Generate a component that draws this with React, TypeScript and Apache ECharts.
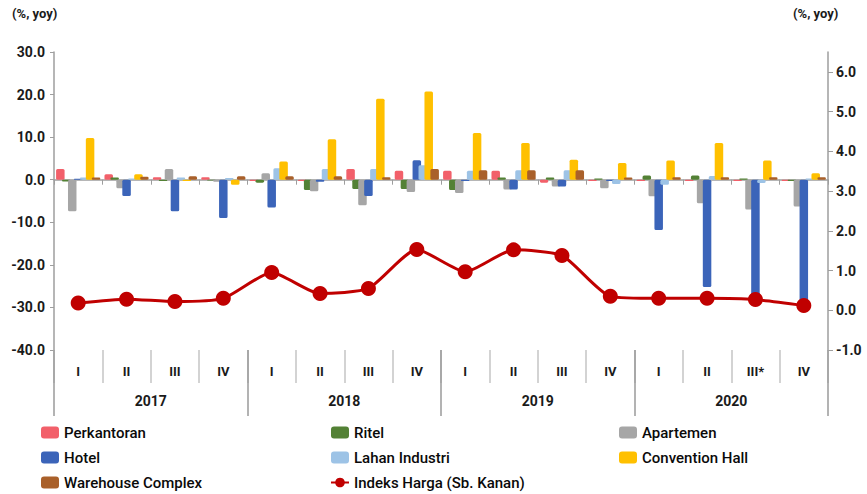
import React, { useEffect, useRef } from 'react';
import * as echarts from 'echarts';

const quarters = ['I', 'II', 'III', 'IV', 'I', 'II', 'III', 'IV', 'I', 'II', 'III', 'IV', 'I', 'II', 'III*', 'IV'];
const years = ['2017', '2018', '2019', '2020'];

const perkantoran = [2.5, 1.3, 0.6, 0.6, -0.3, -0.3, 2.5, 2.1, 2.1, 2.1, -0.7, -0.3, -0.3, -0.3, -0.3, -0.3];
const ritel = [-0.4, 0.5, -0.3, -0.2, -0.7, -2.4, -2.2, -2.2, -2.4, 0.5, 0.5, 0.3, 1.0, 1.0, 0.3, -0.3];
const apartemen = [-7.4, -2.0, 2.5, -0.5, 1.5, -2.7, -6.0, -2.9, -3.1, -2.3, -1.6, -2.0, -3.9, -5.5, -7.0, -6.3];
const hotel = [0.2, -3.8, -7.4, -9.0, -6.5, -0.5, -3.8, 4.6, -0.3, -2.3, -1.6, -0.3, -11.8, -25.2, -27.3, -28.5];
const lahanIndustri = [0.5, 0.3, 0.5, 0.4, 2.7, 2.5, 2.5, 3.4, 2.1, 2.2, 2.2, -1.0, -1.2, 0.9, -0.8, 0.3];
const conventionHall = [9.8, 1.3, -0.3, -1.2, 4.3, 9.5, 19.0, 20.7, 11.0, 8.6, 4.7, 3.9, 4.5, 8.6, 4.5, 1.5];
const warehouseComplex = [0.5, 0.7, 0.8, 0.8, 0.8, 0.8, 0.6, 2.5, 2.2, 2.2, 2.2, 0.5, 0.6, 0.6, 0.6, 0.6];
const indeksHarga = [0.18, 0.28, 0.22, 0.3, 0.95, 0.42, 0.55, 1.53, 0.97, 1.52, 1.38, 0.35, 0.3, 0.3, 0.27, 0.12];

const rightTicks = [-1, 0, 1, 2, 3, 4, 5, 6];

const FONT = 'Roboto, "DejaVu Sans", sans-serif';

export default function App() {
  const ref = useRef<HTMLDivElement>(null);
  useEffect(() => {
    const chart = echarts.init(ref.current!, null, { renderer: 'svg' });
    const bars = [
      { name: 'Perkantoran', data: perkantoran, color: '#F2606A' },
      { name: 'Ritel', data: ritel, color: '#538135' },
      { name: 'Apartemen', data: apartemen, color: '#A6A6A6' },
      { name: 'Hotel', data: hotel, color: '#3B64B9' },
      { name: 'Lahan Industri', data: lahanIndustri, color: '#9DC3E6' },
      { name: 'Convention Hall', data: conventionHall, color: '#FFC000' },
      { name: 'Warehouse Complex', data: warehouseComplex, color: '#A9602A' },
    ];
    const barSeries = bars.map((b) => ({
      type: 'bar',
      name: b.name,
      data: b.data,
      xAxisIndex: 0,
      yAxisIndex: 0,
      barWidth: 8.5,
      barGap: '-30%',
      itemStyle: { color: b.color, borderRadius: 1.5 },
    }));
    const labelText = { fontFamily: FONT, fontSize: 13, fontWeight: 'bold', color: '#1a1a1a' };
    const legendBase = {
      orient: 'vertical',
      top: 425,
      height: 69,
      padding: 0,
      itemWidth: 18,
      itemHeight: 12,
      itemGap: 10,
      textStyle: { fontFamily: FONT, fontSize: 15, lineHeight: 15, fontWeight: 500, color: '#0a0a0a' },
    };
    chart.setOption({
      animation: false,
      backgroundColor: '#fff',
      grid: { left: 54, right: 39, top: 52, bottom: 144, containLabel: false },
      legend: [
        { ...legendBase, left: 41, data: ['Perkantoran', 'Hotel', 'Warehouse Complex'] },
        { ...legendBase, left: 330, data: ['Ritel', 'Lahan Industri', 'Indeks Harga (Sb. Kanan)'] },
        { ...legendBase, left: 619, data: ['Apartemen', 'Convention Hall'] },
      ],
      xAxis: [
        {
          type: 'category',
          data: quarters,
          position: 'bottom',
          axisLine: { show: false, onZero: false },
          axisTick: { show: true, interval: 0, length: 33, lineStyle: { color: '#c4c4c4', width: 1.5 } },
          axisLabel: { ...labelText, interval: 0, margin: 15 },
          splitLine: { show: false },
        },
        {
          type: 'category',
          data: years,
          position: 'bottom',
          axisLine: { show: false, onZero: false },
          axisTick: { show: true, interval: 0, length: 66, lineStyle: { color: '#9a9a9a', width: 1.5 } },
          axisLabel: { ...labelText, fontSize: 14, interval: 0, margin: 44 },
          splitLine: { show: false },
        },
        {
          type: 'category',
          data: quarters,
          position: 'bottom',
          axisLine: { show: true, onZero: true, onZeroAxisIndex: 0, lineStyle: { color: '#9e9e9e', width: 1.5 } },
          axisTick: { show: true, interval: 0, length: 5, lineStyle: { color: '#9e9e9e' } },
          axisLabel: { show: false },
          splitLine: { show: false },
        },
      ],
      yAxis: [
        {
          type: 'value',
          min: -40,
          max: 30,
          interval: 10,
          position: 'left',
          axisLine: { show: true, lineStyle: { color: '#9e9e9e', width: 1.5 } },
          axisTick: { show: true, length: 4, lineStyle: { color: '#9e9e9e' } },
          axisLabel: { ...labelText, fontSize: 14, margin: 9, formatter: (v: number) => v.toFixed(1) },
          splitLine: { show: false },
        },
        {
          type: 'value',
          min: -1,
          max: 6.5,
          interval: 1,
          position: 'right',
          axisLine: { show: true, lineStyle: { color: '#9e9e9e', width: 1.5 } },
          axisTick: { show: true, length: 5, customValues: rightTicks, lineStyle: { color: '#9e9e9e' } },
          axisLabel: { ...labelText, fontSize: 14, margin: 8, customValues: rightTicks, formatter: (v: number) => v.toFixed(1) },
          splitLine: { show: false },
        },
      ],
      graphic: [
        { type: 'text', left: 12, top: 7, style: { text: '(%, yoy)', font: `bold 13px ${FONT}`, fill: '#1a1a1a' } },
        { type: 'text', left: 793, top: 7, style: { text: '(%, yoy)', font: `bold 13px ${FONT}`, fill: '#1a1a1a' } },
      ],
      series: [
        ...barSeries,
        {
          type: 'line',
          name: 'Indeks Harga (Sb. Kanan)',
          data: indeksHarga,
          xAxisIndex: 0,
          yAxisIndex: 1,
          smooth: 0.2,
          symbol: 'circle',
          symbolSize: 15,
          z: 5,
          lineStyle: { color: '#C00000', width: 3 },
          itemStyle: { color: '#C00000' },
        },
      ],
    });
    return () => chart.dispose();
  }, []);
  return <div ref={ref} style={{ position: 'fixed', left: 0, top: 0, width: 867, height: 494 }} />;
}
